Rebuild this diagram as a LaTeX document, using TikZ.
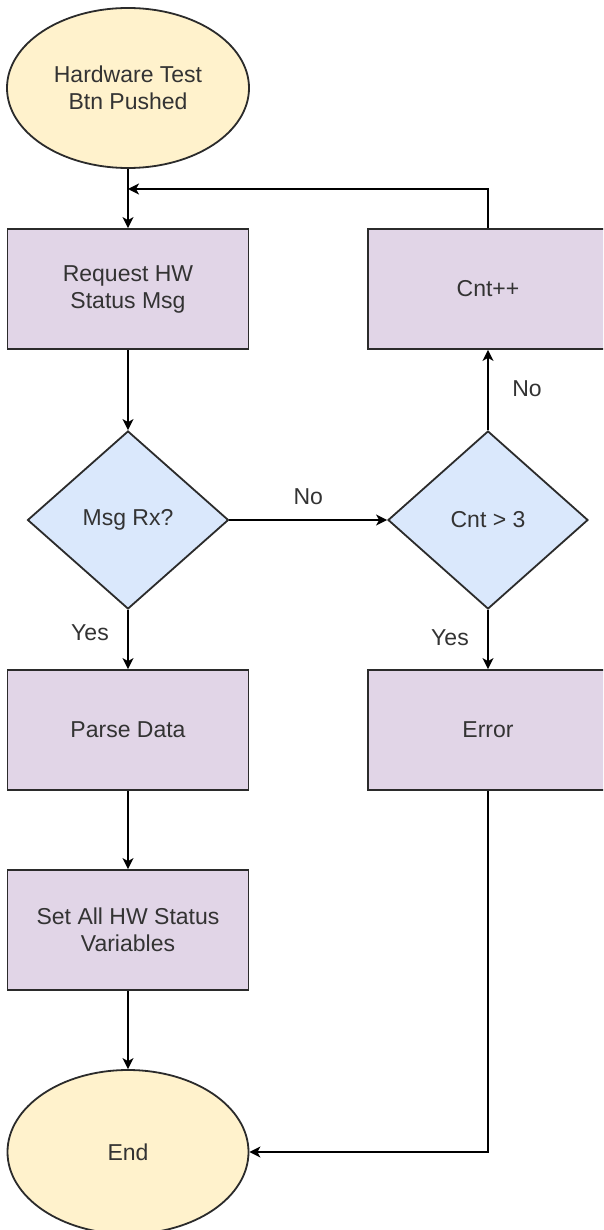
\documentclass[tikz,border=0pt]{standalone}
\usepackage{fontspec}
\setmainfont{Liberation Sans}
\usetikzlibrary{shapes.geometric,arrows.meta}
\definecolor{purp}{HTML}{E1D5E7}
\definecolor{blu}{HTML}{DAE8FC}
\definecolor{yel}{HTML}{FFF2CC}
\definecolor{ln}{HTML}{2B2B2B}
\definecolor{txt}{HTML}{333333}
\begin{document}
\begin{tikzpicture}[x=1pt,y=-1pt,
  every node/.style={font=\fontsize{23}{27}\selectfont, text=txt},
  base/.style={draw=ln, line width=1.8pt, inner sep=0pt, align=center},
  procbox/.style={base, rectangle, fill=purp, minimum width=241pt, minimum height=120pt},
  decbox/.style={base, diamond, fill=blu, minimum width=201pt, minimum height=178pt},
  termbox/.style={base, ellipse, fill=yel, minimum width=242pt, minimum height=160pt},
  conn/.style={draw=black, line width=1.8pt, -{Stealth[length=11pt,width=11pt,inset=3pt]}},
  lbl/.style={inner sep=0pt}]
\clip (0,0) rectangle (603,1230);
\fill[white] (0,0) rectangle (603,1230);

\node[termbox] (start) at (128,88) {Hardware Test\\Btn Pushed};
\node[procbox] (req) at (128,289) {Request HW\\Status Msg};
\node[decbox] (msg) at (128,520) {Msg Rx?};
\node[procbox] (parse) at (128,730) {Parse Data};
\node[procbox] (set) at (128,930) {Set All HW Status\\Variables};
\node[termbox, minimum width=241pt, minimum height=164pt] (end) at (128,1152) {End};

\node[procbox, minimum width=240pt] (cntpp) at (488,289) {Cnt++};
\node[decbox, minimum width=200pt] (cnt3) at (488,520) {Cnt \textgreater{} 3};
\node[procbox, minimum width=240pt] (error) at (488,730) {Error};

\coordinate (fb) at (128,189);

\draw[conn] (start) -- (req);
\draw[conn] (req) -- (msg);
\draw[conn] (msg) -- node[lbl, midway, yshift=23pt] {No} (cnt3);
\draw[conn] (msg) -- node[lbl, pos=0.38, xshift=-38pt] {Yes} (parse);
\draw[conn] (cnt3) -- node[lbl, pos=0.47, xshift=-38pt] {Yes} (error);
\draw[conn] (cnt3) -- node[lbl, pos=0.52, xshift=39pt] {No} (cntpp);
\draw[conn] (cntpp.north) |- (fb);
\draw[conn] (parse) -- (set);
\draw[conn] (set) -- (end);
\draw[conn] (error) |- (end);
\end{tikzpicture}
\end{document}
